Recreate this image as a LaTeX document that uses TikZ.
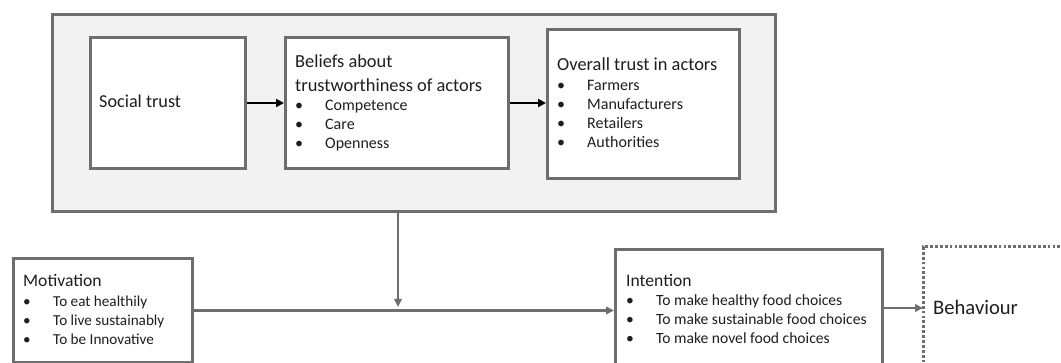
\documentclass[tikz,border=0pt]{standalone}
\usepackage{fontspec}
\setmainfont{Carlito}
\usetikzlibrary{arrows.meta}
\definecolor{bordergray}{HTML}{6E6E6E}
\definecolor{panelfill}{HTML}{F2F2F2}
\definecolor{txt}{HTML}{1E1E1E}
\newcommand{\bitem}[1]{\makebox[30pt][l]{\textbullet}#1}
\begin{document}
\begin{tikzpicture}[x=1pt,y=-1pt,
  box/.style={draw=bordergray, line width=3pt, fill=white, inner sep=0pt, anchor=north west},
  panel/.style={draw=bordergray, line width=3pt, fill=panelfill, inner sep=0pt, anchor=north west},
  txtnode/.style={inner sep=0pt, anchor=base west, align=left, text=txt},
  blackarrow/.style={draw=black, line width=2.6pt, -{Triangle[length=8pt,width=8pt]}},
  grayarrow/.style={draw=bordergray, line width=2.8pt, -{Triangle[length=8pt,width=7.5pt]}},
  dotline/.style={draw=bordergray, line width=3pt, dash pattern=on 2.8pt off 2.1pt}
]
\useasboundingbox (0,0) rectangle (1061,363);
\clip (0,0) rectangle (1061,363);

% outer panel
\node[panel, minimum width=723.5pt, minimum height=197pt] (outer) at (50.5,13) {};

% boxes
\node[box, minimum width=155pt, minimum height=131pt] (social) at (89,36) {};
\node[box, minimum width=223pt, minimum height=131pt] (beliefs) at (284,36) {};
\node[box, minimum width=192pt, minimum height=149pt] (overall) at (546,28) {};
\node[box, minimum width=179pt, minimum height=104pt] (motiv) at (12,257) {};
\node[box, minimum width=267pt, minimum height=122pt] (intent) at (614,248) {};

% dotted behaviour frame
\coordinate (bleft) at (923,247);
\draw[dotline] (1070,247) -- (bleft) -- (923,372);

% texts (base anchor = baseline of the last line)
\node[txtnode, font=\fontsize{18.2pt}{22pt}\selectfont] (tsocial) at (99,108) {Social trust};

\node[txtnode, font=\fontsize{18.4pt}{23.5pt}\selectfont] (tbel) at (295,91.5) {Beliefs about\\trustworthiness of actors};
\node[txtnode, font=\fontsize{16pt}{19pt}\selectfont] (ibel) at (295,149) {\bitem{Competence}\\\bitem{Care}\\\bitem{Openness}};

\node[txtnode, font=\fontsize{18.4pt}{22pt}\selectfont] (tover) at (557,71) {Overall trust in actors};
\node[txtnode, font=\fontsize{16pt}{19pt}\selectfont] (iover) at (557,147.5) {\bitem{Farmers}\\\bitem{Manufacturers}\\\bitem{Retailers}\\\bitem{Authorities}};

\node[txtnode, font=\fontsize{17.6pt}{22pt}\selectfont] (tmot) at (23,287) {Motivation};
\node[txtnode, font=\fontsize{15.2pt}{18.8pt}\selectfont] (imot) at (23,344.1) {\bitem{To eat healthily}\\\bitem{To live sustainably}\\\bitem{To be Innovative}};

\node[txtnode, font=\fontsize{17.6pt}{22pt}\selectfont] (tint) at (626,287) {Intention};
\node[txtnode, font=\fontsize{15.6pt}{18.8pt}\selectfont] (iint) at (626,343.6) {\bitem{To make healthy food choices}\\\bitem{To make sustainable food choices}\\\bitem{To make novel food choices}};

\node[txtnode, font=\fontsize{20.6pt}{24pt}\selectfont] (tbeh) at (933,315) {Behaviour};

% connectors
\draw[blackarrow] (social.east) -- (beliefs.west);
\draw[blackarrow] (beliefs.east) -- (beliefs.east -| overall.west);
\draw[grayarrow] (motiv.east) -- (motiv.east -| intent.west);
\coordinate (join) at (398,309);
\draw[grayarrow, shorten >=2pt] (outer.south -| join) -- (join);
\draw[grayarrow] (intent.east |- 0,308) -- (bleft |- 0,308);
\end{tikzpicture}
\end{document}
